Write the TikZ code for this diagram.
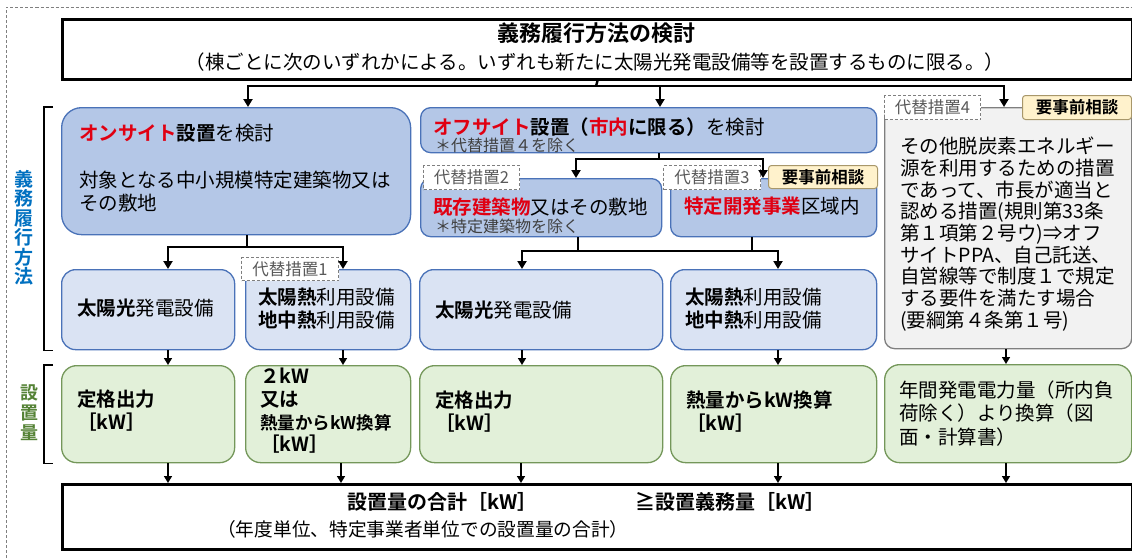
\documentclass[tikz,border=0pt]{standalone}
\usepackage{fontspec}
\setmainfont{Noto Sans CJK JP}[BoldFont={Noto Sans CJK JP Bold}]
\usepackage{xcolor}
\usetikzlibrary{arrows.meta}

\definecolor{edgeblue}{HTML}{4A72B8}
\definecolor{fillblue}{HTML}{B4C7E7}
\definecolor{filllight}{HTML}{DAE3F3}
\definecolor{edgegreen}{HTML}{74975A}
\definecolor{fillgreen}{HTML}{E2F0D9}
\definecolor{edgegrey}{HTML}{7F7F7F}
\definecolor{fillgrey}{HTML}{F2F2F2}
\definecolor{edgeask}{HTML}{A8976A}
\definecolor{fillask}{HTML}{FFF2CC}
\definecolor{tagtext}{HTML}{595959}
\definecolor{notetext}{HTML}{404040}
\definecolor{keyred}{HTML}{E00012}
\definecolor{sideblue}{HTML}{0070C0}
\definecolor{sidegreen}{HTML}{548235}

\newcommand\redb[1]{\textcolor{keyred}{\textbf{#1}}}
\newcommand\sizebody{\fontsize{19.5pt}{23pt}\selectfont}
\newcommand\sizenote{\fontsize{16pt}{18pt}\selectfont}
\newcommand\sizetag{\fontsize{16.5pt}{18pt}\selectfont}
\newcommand\sizehead{\fontsize{22pt}{26pt}\selectfont}

\begin{document}
\begin{tikzpicture}[x=1pt,y=-1pt,
    boxbase/.style={anchor=north west,inner sep=0pt,line width=1.3pt},
    bluebox/.style={boxbase,draw=edgeblue,fill=fillblue,rounded corners=10pt},
    lightbox/.style={boxbase,draw=edgeblue,fill=filllight,rounded corners=14pt},
    greenbox/.style={boxbase,draw=edgegreen,fill=fillgreen,rounded corners=15pt},
    greybox/.style={boxbase,draw=edgegrey,fill=fillgrey,rounded corners=10pt},
    framebox/.style={anchor=north west,inner sep=0pt,draw,line width=3pt,fill=white},
    tagbox/.style={anchor=north west,inner sep=0pt,draw=edgegrey,dash pattern=on 3pt off 2pt,line width=1pt,fill=white,text=tagtext,font=\sizetag},
    askbox/.style={anchor=north west,inner sep=0pt,draw=edgeask,fill=fillask,line width=1pt,rounded corners=3pt,font=\sizetag\bfseries},
    txt/.style={anchor=west,inner sep=0pt,align=left,font=\sizebody},
    note/.style={txt,font=\sizenote,text=notetext},
    bus/.style={line width=2.4pt},
    arr/.style={line width=2.4pt,-{Triangle[length=8pt,width=9pt]}},
    thinarr/.style={line width=1.5pt,-{Triangle[length=7pt,width=8pt]}},
    brk/.style={line width=1.4pt}]
\useasboundingbox (0,0) rectangle (1132,558);
\draw[edgegrey,line width=0.8pt,dash pattern=on 3pt off 2pt] (6.5,558) -- (6.5,7) -- (1132,7);

\node[framebox,minimum width=1070pt,minimum height=60pt] (top) at (61,18) {};
\node[bluebox,rounded corners=20pt,minimum width=349pt,minimum height=127pt] (onsite) at (61,107) {};
\node[bluebox,minimum width=456pt,minimum height=45pt] (offsite) at (420,107) {};
\node[bluebox,minimum width=241pt,minimum height=58pt] (existing) at (420,178) {};
\node[bluebox,minimum width=206pt,minimum height=58pt] (devzone) at (670,178) {};
\node[greybox,minimum width=247pt,minimum height=241pt] (other) at (884,107) {};
\node[lightbox,minimum width=173pt,minimum height=80pt] (solar1) at (61,269) {};
\node[lightbox,minimum width=165pt,minimum height=80pt] (heat1) at (245,269) {};
\node[lightbox,minimum width=243pt,minimum height=80pt] (solar2) at (419,269) {};
\node[lightbox,minimum width=206pt,minimum height=80pt] (heat2) at (670,269) {};
\node[greenbox,minimum width=173pt,minimum height=97pt] (amt1) at (61,365) {};
\node[greenbox,minimum width=165pt,minimum height=97pt] (amt2) at (245,365) {};
\node[greenbox,minimum width=243pt,minimum height=97pt] (amt3) at (419,365) {};
\node[greenbox,minimum width=206pt,minimum height=97pt] (amt4) at (670,365) {};
\node[greenbox,minimum width=247pt,minimum height=98pt] (amt5) at (884,364) {};
\node[framebox,minimum width=1070pt,minimum height=65pt] (sum) at (61,483) {};

\node[tagbox,minimum width=97pt,minimum height=23pt] (alt1) at (241,257) {代替措置1};
\node[tagbox,minimum width=96pt,minimum height=24pt] (alt2) at (423,165) {代替措置2};
\node[tagbox,minimum width=97pt,minimum height=24pt] (alt3) at (663,165) {代替措置3};
\node[tagbox,minimum width=96pt,minimum height=24pt] (alt4) at (884,95) {代替措置4};
\node[askbox,minimum width=109pt,minimum height=23pt] (ask3) at (768,165) {要事前相談};
\node[askbox,minimum width=109pt,minimum height=24pt] (ask4) at (1022,95) {要事前相談};

\node[font=\sizehead\bfseries,inner sep=0pt] (title) at (596,33) {義務履行方法の検討};
\node[font=\sizebody,inner sep=0pt] (subtitle) at (595,62) {（棟ごとに次のいずれかによる。いずれも新たに太陽光発電設備等を設置するものに限る。）};
\node[txt] (onsitehead) at (79,133) {\redb{オンサイト}\textbf{設置}を検討};
\node[txt] (onsitebody) at (79,191.5) {対象となる中小規模特定建築物又は\\その敷地};
\node[txt] (offsitehead) at (433,127) {\redb{オフサイト}\textbf{設置（}\redb{市内}\textbf{に限る）}を検討};
\node[note] (offsitenote) at (435,145) {＊代替措置４を除く};
\node[txt] (existinghead) at (433,207) {\redb{既存建築物}又はその敷地};
\node[note] (existingnote) at (435,226) {＊特定建築物を除く};
\node[txt] (devzonehead) at (684,206) {\redb{特定開発事業}区域内};
\node[txt,font=\fontsize{19.5pt}{21.7pt}\selectfont] (othertext) at (900,234) {その他脱炭素エネルギー\\源を利用するための措置\\であって、市長が適当と\\認める措置(規則第33条\\第１項第２号ウ)⇒オフ\\サイトPPA、自己託送、\\自営線等で制度１で規定\\する要件を満たす場合\\(要綱第４条第１号)};
\node[txt] (solar1text) at (77,308) {\textbf{太陽光}発電設備};
\node[txt] (heat1text) at (258,308.5) {\textbf{太陽熱}利用設備\\\textbf{地中熱}利用設備};
\node[txt] (solar2text) at (435,310) {\textbf{太陽光}発電設備};
\node[txt] (heat2text) at (685,308.5) {\textbf{太陽熱}利用設備\\\textbf{地中熱}利用設備};
\node[txt,font=\sizebody\bfseries] (amt1text) at (77,411) {定格出力\\［kW］};
\node[txt,font=\fontsize{19.5pt}{22.7pt}\selectfont\bfseries] (amt2text) at (260,411) {２kW\\又は\\{\fontsize{17.5pt}{22.7pt}\selectfont 熱量からkW換算}\\［kW］};
\node[txt,font=\sizebody\bfseries] (amt3text) at (435,411.5) {定格出力\\［kW］};
\node[txt,font=\sizebody\bfseries] (amt4text) at (686,411.5) {熱量からkW換算\\［kW］};
\node[txt,font=\fontsize{19.5pt}{23.5pt}\selectfont] (amt5text) at (899,413.5) {年間発電電力量（所内負\\荷除く）より換算（図\\面・計算書）};
\node[txt,font=\fontsize{20pt}{24pt}\selectfont\bfseries] (sumtext) at (347,502) {設置量の合計［kW］};
\node[txt,font=\fontsize{20pt}{24pt}\selectfont\bfseries] (dutytext) at (635,502) {≧設置義務量［kW］};
\node[txt,font=\fontsize{18.7pt}{22pt}\selectfont] (sumnote) at (217,529) {（年度単位、特定事業者単位での設置量の合計）};

\node[font=\fontsize{19pt}{19.5pt}\selectfont\bfseries,text=sideblue,align=center,inner sep=0pt] (sidemethod) at (24,228) {義\\務\\履\\行\\方\\法};
\node[font=\fontsize{18pt}{20pt}\selectfont\bfseries,text=sidegreen,align=center,inner sep=0pt] (sideamount) at (29,413) {設\\置\\量};
\draw[brk] (53,0 |- onsite.north) -| (44,0 |- solar1.south) -- (53,0 |- solar1.south);
\draw[brk] (53,0 |- amt1.north) -| (44,0 |- amt1.south) -- (53,0 |- amt1.south);

\coordinate (topbus) at (596,86);
\draw[bus] (top.south) -- (topbus);
\draw[arr] (topbus) -| (248,0 |- onsite.north);
\draw[arr] (topbus) -| (660,0 |- offsite.north);
\draw[arr] (topbus) -| (1004,0 |- other.north);

\coordinate (offbus) at (659,159);
\draw[bus] (659,0 |- offsite.south) -- (offbus);
\draw[arr] (offbus) -| (576,0 |- existing.north);
\draw[arr] (offbus) -| (763,0 |- devzone.north);

\coordinate (onbus) at (247,247);
\draw[bus] (247,0 |- onsite.south) -- (onbus);
\draw[arr] (onbus) -| (168,0 |- solar1.north);
\draw[arr] (onbus) -| (343,0 |- heat1.north);

\coordinate (midbus) at (650,251);
\draw[bus] (578,0 |- existing.south) |- (midbus) -| (752,0 |- devzone.south);
\draw[arr] (midbus) -| (522,0 |- solar2.north);
\draw[arr] (midbus) -| (778,0 |- heat2.north);

\draw[thinarr] (168,0 |- solar1.south) -- (168,0 |- amt1.north);
\draw[thinarr] (343,0 |- heat1.south) -- (343,0 |- amt2.north);
\draw[thinarr] (522,0 |- solar2.south) -- (522,0 |- amt3.north);
\draw[thinarr] (778,0 |- heat2.south) -- (778,0 |- amt4.north);
\draw[thinarr] (1006,0 |- other.south) -- (1006,0 |- amt5.north);

\draw[thinarr] (168,0 |- amt1.south) -- (168,0 |- sum.north);
\draw[thinarr] (341,0 |- amt2.south) -- (341,0 |- sum.north);
\draw[thinarr] (521,0 |- amt3.south) -- (521,0 |- sum.north);
\draw[thinarr] (778,0 |- amt4.south) -- (778,0 |- sum.north);
\draw[thinarr] (1006,0 |- amt5.south) -- (1006,0 |- sum.north);
\end{tikzpicture}
\end{document}
